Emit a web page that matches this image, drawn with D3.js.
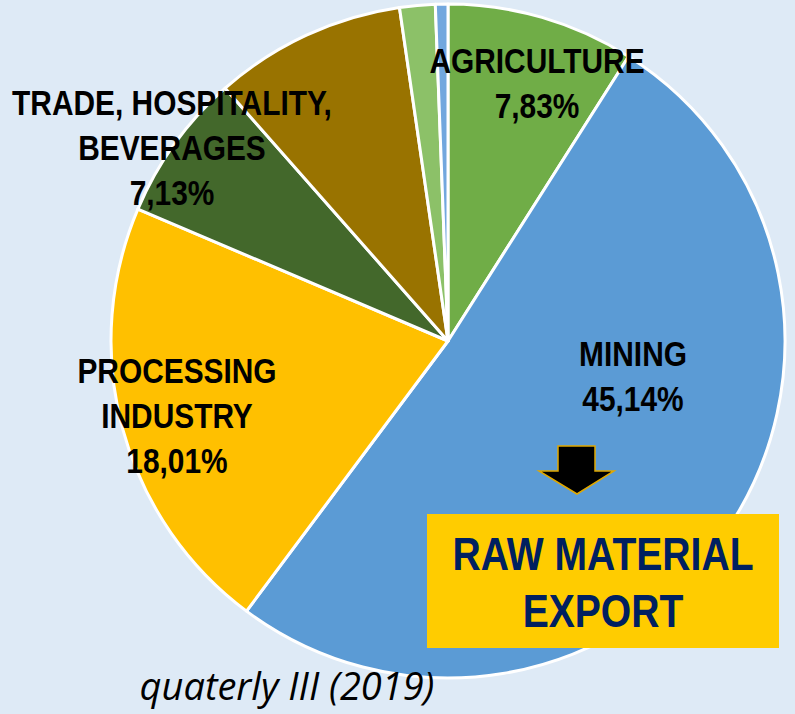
<!DOCTYPE html>
<html>
<head>
<meta charset="utf-8">
<script src="https://cdn.jsdelivr.net/npm/d3@7"></script>
<style>
  body { margin: 0; background: #DEEAF6; }
  svg { display: block; }
</style>
</head>
<body>
<div id="chart"></div>
<script>
// Slices clockwise from 12 o'clock (shares)
const categories = ["AGRICULTURE", "MINING", "PROCESSING INDUSTRY", "TRADE, HOSPITALITY, BEVERAGES", "OTHER A", "OTHER B", "OTHER C"];
const values = [9.0, 51.2, 21.2, 7.1, 9.2, 1.7, 0.6];
const colors = ["#70AD47", "#5B9BD5", "#FFC000", "#43682B", "#997300", "#8CC168", "#72A7DE"];

// Printed labels (lines of text) for the labelled slices
const labelLines = [
  ["AGRICULTURE", "7,83%"],
  ["MINING", "45,14%"],
  ["PROCESSING", "INDUSTRY", "18,01%"],
  ["TRADE, HOSPITALITY,", "BEVERAGES", "7,13%"],
  [], [], []
];

const calloutLines = ["RAW MATERIAL", "EXPORT"];
const footnote = "quaterly III (2019)";

const width = 795, height = 714;
const cx = 448, cy = 341, radius = 337;
const narrow = 0.83; // horizontal squeeze to mimic a narrow bold face

const svg = d3.select("#chart")
  .append("svg")
  .attr("width", width)
  .attr("height", height);

svg.append("rect")
  .attr("width", width)
  .attr("height", height)
  .attr("fill", "#DEEAF6");

const pie = d3.pie().sort(null).value(d => d);
const arcs = pie(values);
const arc = d3.arc().innerRadius(0).outerRadius(radius);

const g = svg.append("g")
  .attr("transform", `translate(${cx},${cy})`);

g.selectAll("path")
  .data(arcs)
  .join("path")
  .attr("d", arc)
  .attr("fill", (d, i) => colors[i])
  .attr("stroke", "#fff")
  .attr("stroke-width", 3)
  .attr("stroke-linejoin", "round");

// label anchors (center of first baseline, relative to pie center)
const labelAnchor = [
  [89, -268],
  [185, 25],
  [-271, 42],
  [-276, -226],
  null, null, null
];
const lineGap = 45;
const labelFont = "'Liberation Sans Narrow', 'Arial Narrow', 'Liberation Sans', Arial, sans-serif";

labelLines.forEach((lines, i) => {
  if (!lines.length) return;
  const [dx, dy] = labelAnchor[i];
  const t = g.append("text")
    .attr("transform", `translate(${dx},${dy}) scale(${narrow},1)`)
    .attr("text-anchor", "middle")
    .attr("font-family", labelFont)
    .attr("font-weight", "bold")
    .attr("font-size", 36)
    .attr("fill", "#000");
  lines.forEach((s, k) => {
    t.append("tspan")
      .attr("x", 0)
      .attr("y", k * lineGap)
      .text(s);
  });
});

// arrow pointing down to the callout box
svg.append("path")
  .attr("d", "M558,446 L595,446 L595,471 L614,471 L577,494 L539,471 L558,471 Z")
  .attr("fill", "#000")
  .attr("stroke", "#E0A800")
  .attr("stroke-width", 1.5)
  .attr("stroke-linejoin", "miter");

// callout box
svg.append("rect")
  .attr("x", 427)
  .attr("y", 514)
  .attr("width", 352)
  .attr("height", 134)
  .attr("fill", "#FFCC00");

const callout = svg.append("text")
  .attr("transform", `translate(603,570) scale(0.85,1)`)
  .attr("text-anchor", "middle")
  .attr("font-family", labelFont)
  .attr("font-weight", "bold")
  .attr("font-size", 46)
  .attr("fill", "#002060");
calloutLines.forEach((s, k) => {
  callout.append("tspan")
    .attr("x", 0)
    .attr("y", k * 57)
    .text(s);
});

svg.append("text")
  .attr("x", 287)
  .attr("y", 700)
  .attr("text-anchor", "middle")
  .attr("font-family", "'Open Sans', Lato, sans-serif")
  .attr("font-style", "italic")
  .attr("font-size", 38)
  .attr("fill", "#000")
  .text(footnote);
</script>
</body>
</html>
